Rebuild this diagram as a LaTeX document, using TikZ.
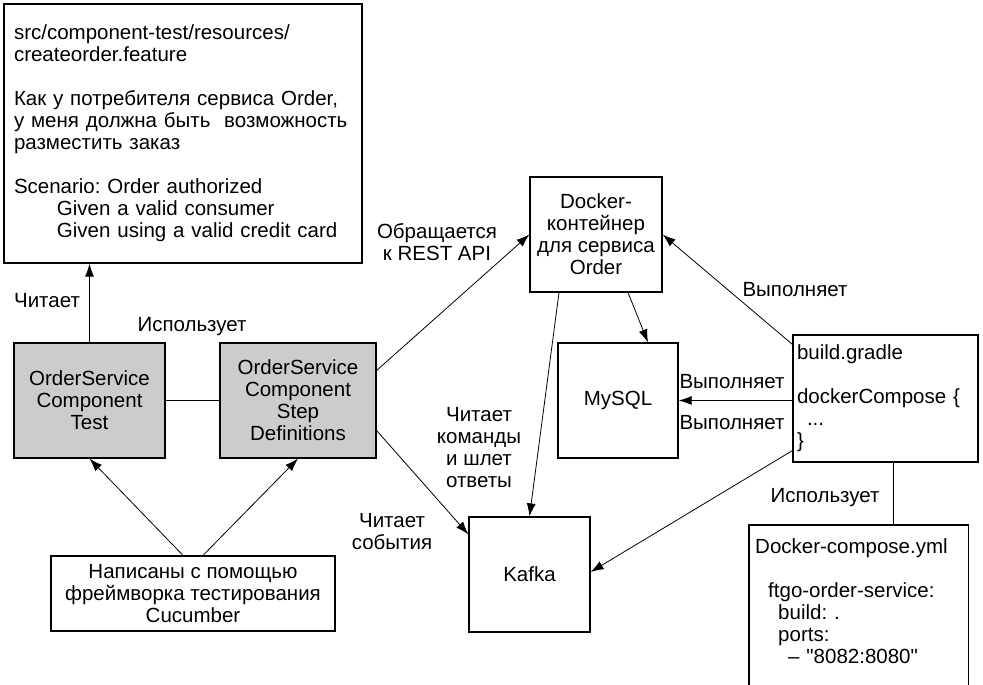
\documentclass[tikz,border=0pt]{standalone}
\usepackage{fontspec}
\setmainfont{Liberation Sans}
\usetikzlibrary{arrows.meta}
\frenchspacing

\tikzstyle{block} = [draw, line width=1.2pt, inner sep=0pt, align=center]
\tikzstyle{shaded} = [block, fill=gray!40]
\tikzstyle{lbl} = [align=center, inner sep=0pt]
\tikzstyle{arr} = [line width=0.8pt, -{Latex[length=13pt,width=9pt]}]
\tikzstyle{con} = [line width=0.8pt]

\begin{document}
\begin{tikzpicture}[x=1pt,y=-1pt,font=\fontsize{20.5}{22}\selectfont]
\useasboundingbox (0,0) rectangle (983,685);
\node[block, minimum width=358pt, minimum height=259pt, text width=338pt, align=left] (feature) at (183,133.5) {src/component-test/resources/\\createorder.feature\\[22pt]Как у потребителя сервиса Order,\\у меня должна быть\ \ возможность\\разместить заказ\\[22pt]Scenario: Order authorized\\\hspace*{43pt}Given a valid consumer\\\hspace*{43pt}Given using a valid credit card};
\node[shaded, minimum width=151pt, minimum height=115pt] (test) at (89.5,400.5) {OrderService\\Component\\Test};
\node[shaded, minimum width=156pt, minimum height=115pt] (steps) at (298,400.5) {OrderService\\Component\\Step\\Definitions};
\node[block, minimum width=284pt, minimum height=75pt] (cucumber) at (193,593.5) {Написаны с помощью\\фреймворка тестирования\\Cucumber};
\node[block, minimum width=132pt, minimum height=115pt] (docker) at (596,234.5) {Docker-\\контейнер\\для сервиса\\Order};
\node[block, minimum width=120pt, minimum height=115pt] (mysql) at (618,400.5) {MySQL};
\node[block, minimum width=121pt, minimum height=115pt] (kafka) at (529.5,574.5) {Kafka};
\node[block, minimum width=185pt, minimum height=127pt, text width=177pt, align=left] (build) at (885.5,398.5) {build.gradle\\[22pt]dockerCompose \{\\\hspace*{10pt}...\\\}};
\node[anchor=north west, inner xsep=6pt, inner ysep=13pt, text width=207pt, align=left] (compose) at (749,525) {Docker-compose.yml\\[22pt]\hspace*{13pt}ftgo-order-service:\\\hspace*{23pt}build: .\\\hspace*{23pt}ports:\\\hspace*{33pt}-- \textquotedbl 8082:8080\textquotedbl};
\draw[line width=1.2pt] (compose.north west |- 0,685) -- (compose.north west) -- (compose.north east) -- (compose.north east |- 0,685);

\node[lbl] (reads) at (47,301) {Читает};
\node[lbl] (uses) at (192,327) {Использует};
\node[lbl] (callsapi) at (437,242) {Обращается\\к REST API};
\node[lbl] (readscmd) at (479,448) {Читает\\команды\\и шлет\\ответы};
\node[lbl] (readsev) at (392,532) {Читает\\события};
\node[lbl] (runsdocker) at (795,290) {Выполняет};
\node[lbl] (runsup) at (732,382) {Выполняет};
\node[lbl] (runsdown) at (732,423) {Выполняет};
\node[lbl] (usescompose) at (825,498) {Использует};

\draw[arr] (test.north) -- (test.north |- feature.south);
\draw[con] (test) -- (steps);
\draw[arr] ([xshift=-10pt]cucumber.north) -- (test.south);
\draw[arr] ([xshift=10pt]cucumber.north) -- (steps.south);
\draw[arr] ([yshift=30pt]steps.east) -- (docker.west);
\draw[arr] ([yshift=-30pt]steps.east) -- ([yshift=-18pt]kafka.north west);
\draw[arr] ([xshift=32pt]docker.south) -- ([xshift=30pt]mysql.north);
\draw[arr] ([xshift=-37pt]docker.south) -- (kafka.north);
\draw[arr] ([yshift=-10pt]build.north west) -- (docker.east);
\draw[arr] (build.west |- mysql.east) -- (mysql.east);
\draw[arr] ([yshift=12pt]build.south west) -- ([yshift=2.5pt]kafka.east);
\draw[con] ([xshift=7.5pt]build.south) -- ([xshift=7.5pt]build.south |- compose.north);
\end{tikzpicture}
\end{document}
